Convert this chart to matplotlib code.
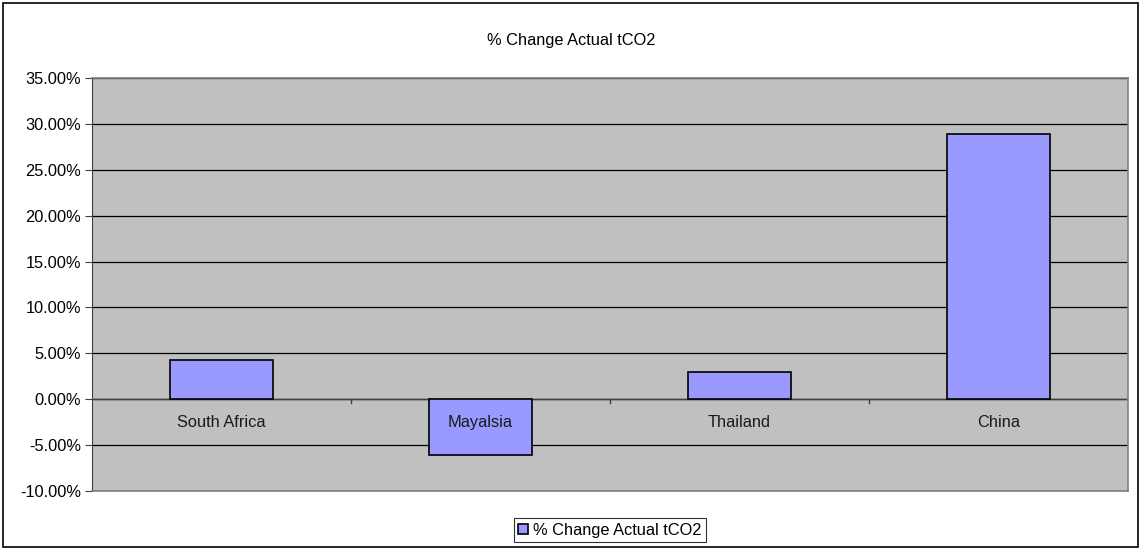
import numpy as np
import matplotlib.pyplot as plt
from matplotlib.ticker import FuncFormatter, FixedLocator
from matplotlib.patches import Rectangle

plt.rcParams['font.family'] = ['Liberation Sans', 'DejaVu Sans']

countries = ['South Africa', 'Mayalsia', 'Thailand', 'China']
pct_change = [4.25, -6.03, 2.98, 28.87]
series_name = '% Change Actual tCO2'

FS = 11.8

fig = plt.figure(figsize=(11.42, 5.5), dpi=100)
W, H = 1142, 550

# outer chart border
fig.patches.append(Rectangle((3 / W, 3 / H), 1135 / W, 544 / H, transform=fig.transFigure,
                             fill=False, edgecolor='black', linewidth=1.2))

ax = fig.add_axes([92 / W, 1 - 491 / H, (1128 - 92) / W, (491 - 78) / H])
ax.set_facecolor('#C0C0C0')

x = np.arange(len(countries))
bars = ax.bar(x, pct_change, width=0.4, color='#9999FF', edgecolor='black',
              linewidth=1.2, label=series_name, zorder=3)

ax.set_xlim(-0.5, len(countries) - 0.5)
ax.set_ylim(-10, 35)
ax.set_yticks(np.arange(-10, 36, 5))
ax.yaxis.set_major_formatter(FuncFormatter(lambda v, p: f'{v:.2f}%'))
ax.tick_params(axis='y', labelsize=FS, length=5, width=0.8, color='#404040', pad=3)
ax.grid(axis='y', color='black', linewidth=0.9, zorder=1)

for s in ['top', 'right', 'bottom']:
    ax.spines[s].set_color('#808080')
    ax.spines[s].set_linewidth(1.2)
ax.spines['left'].set_color('#404040')

# category axis sits on the zero line, labels inside the plot area
ax.set_xticks([])
ax.axhline(0, color='#404040', linewidth=1.0, zorder=2)
for xi in x[:-1] + 0.5:
    ax.plot([xi, xi], [0, -0.45], color='#404040', linewidth=1.0, zorder=2)
for xi, name in zip(x, countries):
    ax.text(xi, -2.5, name, ha='center', va='center', fontsize=FS, color='#1a1a1a', zorder=4)

fig.text(571 / W, 1 - 41 / H, series_name, ha='center', va='center', fontsize=FS)

leg = fig.legend(handles=[bars], labels=[series_name], loc='center',
                 bbox_to_anchor=(610 / W, 1 - 530 / H), fontsize=FS, frameon=True,
                 fancybox=False, edgecolor='black', handlelength=0.6, handleheight=0.6,
                 handletextpad=0.3, borderpad=0.25, borderaxespad=0)
leg.get_frame().set_linewidth(0.8)

fig.savefig('out.png', dpi=100)
